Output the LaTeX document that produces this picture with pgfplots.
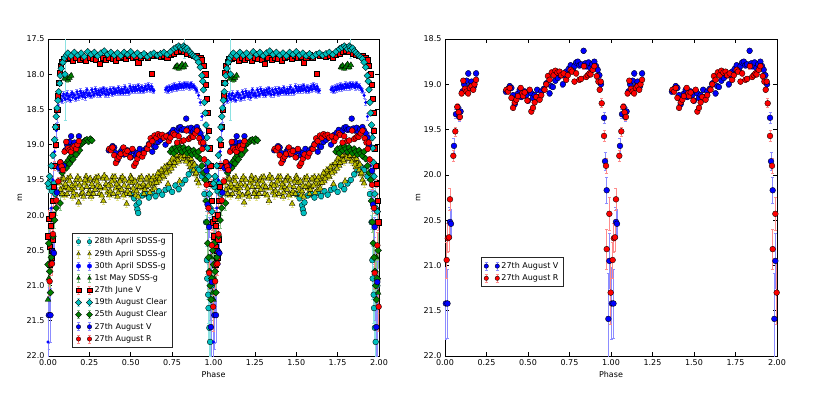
\documentclass[border=0pt]{standalone}
\usepackage{fontspec}
\setmainfont{DejaVu Sans}
\usepackage{pgfplots}
\usepackage{pgfplotstable}
\pgfplotsset{compat=1.18}

\definecolor{mc}{rgb}{0,0.75,0.75}
\definecolor{my}{rgb}{0.75,0.75,0}
\definecolor{mg}{rgb}{0,0.5,0}

% 28th April SDSS-g
\pgfplotstableread{
x y e
0.005 19.60 0.08
0.015 19.50 0.06
0.025 19.66 0.06
0.035 19.55 0.05
0.045 19.70 0.05
0.50 19.70 0.04
0.52 19.76 0.04
0.535 19.86 0.04
0.54 19.92 0.04
0.545 19.97 0.04
0.55 19.82 0.04
0.57 19.72 0.04
0.59 19.70 0.04
0.61 19.75 0.04
0.63 19.68 0.04
0.65 19.73 0.04
0.67 19.66 0.04
0.69 19.71 0.04
0.71 19.64 0.04
0.73 19.62 0.04
0.75 19.67 0.04
0.77 19.58 0.04
0.79 19.63 0.04
0.81 19.55 0.04
0.83 19.50 0.04
0.85 19.42 0.04
0.87 19.36 0.04
0.89 19.31 0.04
0.91 19.36 0.05
0.93 19.45 0.05
0.945 19.70 0.06
0.955 20.10 0.10
0.960 20.64 0.20
0.962 20.90 0.30
0.968 21.13 0.40
0.970 21.32 0.50
0.975 21.60 0.60
0.980 21.80 0.70
0.990 21.00 0.50
}\aprA

% 29th April SDSS-g
\pgfplotstableread{
x y e
0.07 19.55 0.05
0.08 19.50 0.05
0.09 19.62 0.05
0.10 19.72 0.05
0.11 19.60 0.05
0.12 19.48 0.05
0.13 19.52 0.05
0.14 19.64 0.05
0.15 19.74 0.05
0.16 19.62 0.05
0.17 19.50 0.05
0.18 19.46 0.05
0.185 19.82 0.05
0.19 19.58 0.05
0.20 19.70 0.05
0.21 19.68 0.05
0.22 19.55 0.05
0.23 19.45 0.05
0.24 19.52 0.05
0.25 19.66 0.05
0.26 19.74 0.05
0.27 19.60 0.05
0.28 19.50 0.05
0.29 19.47 0.05
0.30 19.58 0.05
0.31 19.70 0.05
0.32 19.62 0.05
0.33 19.48 0.05
0.335 19.80 0.05
0.34 19.44 0.05
0.35 19.56 0.05
0.36 19.68 0.05
0.37 19.72 0.05
0.38 19.58 0.05
0.39 19.46 0.05
0.40 19.50 0.05
0.41 19.62 0.05
0.42 19.74 0.05
0.43 19.60 0.05
0.44 19.48 0.05
0.45 19.46 0.05
0.46 19.58 0.05
0.47 19.70 0.05
0.475 19.84 0.05
0.48 19.66 0.05
0.49 19.52 0.05
0.50 19.45 0.05
0.51 19.54 0.05
0.52 19.66 0.05
0.53 19.72 0.05
0.54 19.58 0.05
0.55 19.48 0.05
0.56 19.50 0.05
0.57 19.62 0.05
0.58 19.70 0.05
0.59 19.60 0.05
0.60 19.50 0.05
0.61 19.46 0.05
0.62 19.56 0.05
0.63 19.64 0.05
0.64 19.55 0.05
0.65 19.48 0.05
0.66 19.44 0.05
0.67 19.52 0.05
0.68 19.42 0.05
0.69 19.38 0.05
0.70 19.46 0.05
0.71 19.36 0.05
0.72 19.30 0.05
0.725 19.56 0.05
0.73 19.38 0.05
0.74 19.28 0.05
0.75 19.22 0.05
0.76 19.30 0.05
0.77 19.20 0.05
0.78 19.16 0.05
0.79 19.24 0.05
0.795 19.52 0.05
0.80 19.14 0.05
0.81 19.12 0.05
0.82 19.20 0.05
0.83 19.15 0.05
0.84 19.12 0.05
0.85 19.22 0.05
0.86 19.32 0.05
0.87 19.26 0.05
0.88 19.36 0.05
0.89 19.42 0.05
0.90 19.50 0.05
0.91 19.55 0.05
0.075 19.64 0.05
0.085 19.70 0.05
0.095 19.48 0.05
0.105 19.56 0.05
0.115 19.70 0.05
0.125 19.62 0.05
0.135 19.46 0.05
0.145 19.58 0.05
0.155 19.68 0.05
0.165 19.56 0.05
0.175 19.72 0.05
0.195 19.50 0.05
0.205 19.62 0.05
0.215 19.74 0.05
0.225 19.50 0.05
0.235 19.60 0.05
0.245 19.70 0.05
0.255 19.48 0.05
0.265 19.56 0.05
0.275 19.70 0.05
0.285 19.64 0.05
0.295 19.52 0.05
0.305 19.46 0.05
0.315 19.60 0.05
0.325 19.72 0.05
0.345 19.62 0.05
0.355 19.48 0.05
0.365 19.58 0.05
0.375 19.66 0.05
0.385 19.52 0.05
0.395 19.70 0.05
0.405 19.46 0.05
0.415 19.56 0.05
0.425 19.68 0.05
0.435 19.52 0.05
0.445 19.64 0.05
0.455 19.72 0.05
0.465 19.50 0.05
0.485 19.60 0.05
0.495 19.70 0.05
0.505 19.48 0.05
0.515 19.62 0.05
0.525 19.52 0.05
0.535 19.66 0.05
0.545 19.74 0.05
0.555 19.60 0.05
0.565 19.46 0.05
0.575 19.56 0.05
0.585 19.64 0.05
0.595 19.48 0.05
0.605 19.58 0.05
0.615 19.68 0.05
0.625 19.50 0.05
0.635 19.46 0.05
0.645 19.62 0.05
0.655 19.54 0.05
0.665 19.40 0.05
0.675 19.48 0.05
0.685 19.36 0.05
0.695 19.44 0.05
0.705 19.32 0.05
0.715 19.40 0.05
0.735 19.26 0.05
0.745 19.34 0.05
0.755 19.18 0.05
0.765 19.26 0.05
0.775 19.14 0.05
0.785 19.22 0.05
0.805 19.18 0.05
0.815 19.10 0.05
0.825 19.16 0.05
0.835 19.24 0.05
0.845 19.16 0.05
0.855 19.28 0.05
0.865 19.20 0.05
0.875 19.30 0.05
0.885 19.28 0.05
0.895 19.40 0.05
}\aprB

% 30th April SDSS-g
\pgfplotstableread{
x y e
0.000 21.80 0.80
0.005 21.20 0.70
0.010 20.80 0.60
0.015 20.30 0.40
0.020 19.90 0.30
0.030 19.50 0.20
0.040 19.10 0.15
0.050 18.80 0.10
0.055 18.60 0.08
0.060 18.45 0.06
0.065 18.38 0.05
0.07 18.33 0.035
0.08 18.36 0.035
0.09 18.31 0.035
0.10 18.34 0.035
0.11 18.30 0.035
0.12 18.35 0.035
0.13 18.32 0.035
0.14 18.29 0.035
0.15 18.33 0.035
0.16 18.30 0.035
0.17 18.34 0.035
0.18 18.28 0.035
0.19 18.31 0.035
0.20 18.27 0.035
0.21 18.32 0.035
0.22 18.29 0.035
0.23 18.26 0.035
0.24 18.30 0.035
0.25 18.27 0.035
0.26 18.31 0.035
0.27 18.25 0.035
0.28 18.28 0.035
0.29 18.24 0.035
0.30 18.29 0.035
0.31 18.26 0.035
0.32 18.22 0.035
0.33 18.27 0.035
0.34 18.24 0.035
0.35 18.29 0.035
0.36 18.25 0.035
0.37 18.27 0.035
0.38 18.23 0.035
0.39 18.28 0.035
0.40 18.25 0.035
0.41 18.22 0.035
0.42 18.26 0.035
0.43 18.23 0.035
0.44 18.27 0.035
0.45 18.24 0.035
0.46 18.21 0.035
0.47 18.26 0.035
0.48 18.22 0.035
0.49 18.25 0.035
0.50 18.20 0.035
0.51 18.24 0.035
0.52 18.21 0.035
0.53 18.18 0.035
0.54 18.23 0.035
0.55 18.20 0.035
0.56 18.24 0.035
0.57 18.19 0.035
0.58 18.22 0.035
0.59 18.17 0.035
0.60 18.21 0.035
0.61 18.18 0.035
0.62 18.22 0.035
0.63 18.20 0.035
0.64 18.23 0.035
0.71 18.22 0.035
0.72 18.19 0.035
0.73 18.23 0.035
0.74 18.20 0.035
0.75 18.17 0.035
0.76 18.21 0.035
0.77 18.18 0.035
0.78 18.16 0.035
0.79 18.20 0.035
0.80 18.17 0.035
0.81 18.15 0.035
0.82 18.19 0.035
0.83 18.16 0.035
0.84 18.14 0.035
0.85 18.17 0.035
0.86 18.15 0.035
0.87 18.18 0.035
0.88 18.16 0.035
0.89 18.20 0.035
0.90 18.24 0.035
0.91 18.30 0.04
0.92 18.40 0.04
0.93 18.60 0.05
0.94 18.90 0.08
0.95 19.30 0.10
0.96 19.80 0.15
0.97 20.40 0.30
0.98 21.00 0.50
0.99 21.60 0.70
0.075 18.30 0.035
0.085 18.38 0.035
0.095 18.28 0.035
0.105 18.36 0.035
0.115 18.27 0.035
0.125 18.31 0.035
0.135 18.37 0.035
0.145 18.26 0.035
0.155 18.29 0.035
0.165 18.35 0.035
0.175 18.25 0.035
0.185 18.33 0.035
0.195 18.24 0.035
0.205 18.30 0.035
0.215 18.26 0.035
0.225 18.33 0.035
0.235 18.22 0.035
0.245 18.28 0.035
0.255 18.31 0.035
0.265 18.22 0.035
0.275 18.30 0.035
0.285 18.21 0.035
0.295 18.27 0.035
0.305 18.23 0.035
0.315 18.30 0.035
0.325 18.25 0.035
0.335 18.20 0.035
0.345 18.28 0.035
0.355 18.22 0.035
0.365 18.29 0.035
0.375 18.21 0.035
0.385 18.26 0.035
0.395 18.20 0.035
0.405 18.27 0.035
0.415 18.24 0.035
0.425 18.19 0.035
0.435 18.25 0.035
0.445 18.21 0.035
0.455 18.27 0.035
0.465 18.18 0.035
0.475 18.23 0.035
0.485 18.26 0.035
0.495 18.17 0.035
0.505 18.23 0.035
0.515 18.18 0.035
0.525 18.24 0.035
0.535 18.21 0.035
0.545 18.16 0.035
0.555 18.22 0.035
0.565 18.18 0.035
0.575 18.24 0.035
0.585 18.19 0.035
0.595 18.22 0.035
0.605 18.15 0.035
0.615 18.21 0.035
0.625 18.17 0.035
0.635 18.24 0.035
0.715 18.20 0.035
0.725 18.24 0.035
0.735 18.18 0.035
0.745 18.22 0.035
0.755 18.19 0.035
0.765 18.15 0.035
0.775 18.21 0.035
0.785 18.18 0.035
0.795 18.14 0.035
0.805 18.19 0.035
0.815 18.17 0.035
0.825 18.13 0.035
0.835 18.18 0.035
0.845 18.15 0.035
0.855 18.19 0.035
0.865 18.13 0.035
0.875 18.17 0.035
0.885 18.19 0.035
0.895 18.22 0.035
}\aprC

% 1st May SDSS-g
\pgfplotstableread{
x y e
0.000 21.20 0.30
0.005 20.90 0.25
0.010 20.70 0.20
0.10 18.06 0.03
0.11 18.03 0.03
0.12 18.08 0.03
0.13 18.05 0.03
0.14 18.02 0.03
0.77 17.90 0.03
0.78 17.88 0.03
0.79 17.92 0.03
0.80 17.89 0.03
0.81 17.86 0.03
0.82 17.90 0.03
0.83 17.87 0.03
0.985 20.60 0.20
0.990 20.90 0.25
0.995 21.10 0.30
}\mayA

% 27th June V
\pgfplotstableread{
x y e
0.000 20.30 0.15
0.005 20.05 0.12
0.010 20.70 0.20
0.012 20.45 0.15
0.015 20.15 0.12
0.020 20.50 0.15
0.022 20.60 0.20
0.025 20.00 0.12
0.028 20.35 0.15
0.030 19.80 0.10
0.035 19.60 0.08
0.040 19.30 0.06
0.045 19.00 0.05
0.050 18.75 0.04
0.055 18.50 0.04
0.060 18.30 0.03
0.065 18.12 0.03
0.070 17.98 0.03
0.075 17.88 0.02
0.085 17.82 0.02
0.095 17.78 0.02
0.11 17.78 0.02
0.13 17.77 0.02
0.15 17.80 0.02
0.17 17.76 0.02
0.19 17.79 0.02
0.21 17.77 0.02
0.23 17.80 0.02
0.25 17.76 0.02
0.27 17.78 0.02
0.29 17.79 0.02
0.31 17.85 0.02
0.33 17.77 0.02
0.35 17.79 0.02
0.37 17.76 0.02
0.39 17.78 0.02
0.41 17.80 0.02
0.43 17.77 0.02
0.45 17.75 0.02
0.47 17.78 0.02
0.49 17.74 0.02
0.51 17.77 0.02
0.53 17.75 0.02
0.545 17.83 0.02
0.56 17.76 0.02
0.58 17.73 0.02
0.60 17.76 0.02
0.625 17.99 0.02
0.64 17.74 0.02
0.66 17.72 0.02
0.68 17.75 0.02
0.70 17.73 0.02
0.72 17.76 0.02
0.74 17.72 0.02
0.76 17.70 0.02
0.78 17.68 0.02
0.80 17.66 0.02
0.82 17.68 0.02
0.84 17.70 0.02
0.86 17.72 0.02
0.88 17.74 0.02
0.90 17.74 0.02
0.92 17.76 0.02
0.93 17.80 0.02
0.94 17.88 0.02
0.95 18.00 0.02
0.955 18.15 0.03
0.960 18.35 0.03
0.965 18.55 0.03
0.970 18.80 0.04
0.975 19.05 0.04
0.980 19.30 0.05
0.985 19.55 0.06
0.990 19.80 0.10
0.995 20.10 0.12
}\junA

% 19th August Clear
\pgfplotstableread{
x y e
0.000 19.55 0.05
0.010 19.45 0.05
0.020 19.30 0.04
0.030 19.15 0.04
0.040 18.93 0.03
0.045 18.75 0.03
0.050 18.60 0.03
0.055 18.48 0.03
0.060 18.37 0.03
0.065 18.25 0.03
0.070 18.13 0.03
0.075 18.02 0.02
0.080 17.92 0.02
0.090 17.83 0.02
0.100 17.77 0.02
0.103 18.00 0.65
0.11 17.73 0.02
0.12 17.70 0.02
0.14 17.74 0.02
0.16 17.69 0.02
0.18 17.73 0.02
0.20 17.70 0.02
0.22 17.75 0.02
0.24 17.68 0.02
0.26 17.72 0.02
0.28 17.69 0.02
0.30 17.74 0.02
0.32 17.70 0.02
0.34 17.67 0.02
0.36 17.72 0.02
0.38 17.69 0.02
0.40 17.73 0.02
0.42 17.70 0.02
0.44 17.74 0.02
0.46 17.69 0.02
0.48 17.72 0.02
0.50 17.68 0.02
0.52 17.73 0.02
0.54 17.70 0.02
0.56 17.74 0.02
0.58 17.71 0.02
0.60 17.75 0.02
0.62 17.72 0.02
0.64 17.70 0.02
0.66 17.73 0.02
0.68 17.71 0.02
0.70 17.69 0.02
0.72 17.72 0.02
0.74 17.68 0.02
0.76 17.64 0.02
0.775 17.62 0.02
0.79 17.60 0.02
0.80 17.62 0.02
0.81 17.64 0.02
0.82 17.60 0.02
0.826 17.62 0.15
0.83 17.65 0.02
0.84 17.63 0.02
0.85 17.67 0.02
0.86 17.69 0.02
0.87 17.72 0.02
0.88 17.74 0.02
0.89 17.76 0.02
0.90 17.78 0.02
0.91 17.83 0.02
0.92 17.90 0.02
0.93 18.02 0.02
0.935 18.10 0.02
0.940 18.22 0.03
0.945 18.40 0.03
0.950 18.55 0.03
0.955 18.72 0.03
0.960 18.90 0.04
0.963 19.05 0.04
0.966 19.25 0.04
0.970 19.45 0.05
0.975 19.70 0.08
0.980 19.90 0.10
0.990 19.95 0.12
}\augA

% 25th August Clear
\pgfplotstableread{
x y e
0.000 20.70 0.25
0.005 20.40 0.20
0.010 20.80 0.25
0.015 21.10 0.30
0.020 20.60 0.20
0.030 20.30 0.15
0.040 20.07 0.12
0.050 19.90 0.10
0.073 19.83 0.10
0.085 19.40 0.06
0.095 19.30 0.05
0.105 19.29 0.04
0.110 19.33 0.04
0.115 19.25 0.04
0.125 19.22 0.04
0.130 19.27 0.04
0.135 19.18 0.04
0.145 19.15 0.04
0.150 19.21 0.04
0.155 19.11 0.04
0.165 19.08 0.04
0.170 19.14 0.04
0.175 19.06 0.04
0.185 19.02 0.04
0.190 19.08 0.04
0.195 19.00 0.04
0.205 18.98 0.04
0.215 18.96 0.04
0.225 18.94 0.04
0.235 18.93 0.04
0.245 18.95 0.04
0.255 18.92 0.04
0.265 18.94 0.04
0.74 19.10 0.03
0.75 19.06 0.03
0.76 19.12 0.03
0.77 19.04 0.03
0.78 19.08 0.03
0.79 19.02 0.03
0.80 19.06 0.03
0.81 19.10 0.03
0.82 19.04 0.03
0.83 19.08 0.03
0.84 19.12 0.03
0.85 19.06 0.03
0.86 19.10 0.03
0.87 19.14 0.03
0.88 19.08 0.03
0.89 19.12 0.03
0.90 19.16 0.03
0.91 19.10 0.03
0.92 19.20 0.03
0.93 19.30 0.04
0.94 19.40 0.05
0.950 19.50 0.08
0.955 19.80 0.10
0.960 20.10 0.15
0.965 20.40 0.20
0.970 20.60 0.20
0.975 20.80 0.25
0.980 21.00 0.30
0.985 21.20 0.35
0.990 20.90 0.30
0.995 20.50 0.25
}\augB

% 27th August V
\pgfplotstableread{
x y e
0.005 21.42 0.40
0.015 21.42 0.38
0.030 20.52 0.16
0.036 20.54 0.16
0.054 19.68 0.08
0.066 19.33 0.05
0.076 19.25 0.04
0.086 19.36 0.05
0.094 19.30 0.04
0.105 19.08 0.03
0.115 19.00 0.03
0.130 18.96 0.03
0.140 18.88 0.03
0.150 19.02 0.03
0.160 18.97 0.03
0.175 19.02 0.03
0.187 18.88 0.03
0.367 19.08 0.03
0.380 19.05 0.03
0.390 19.02 0.03
0.400 19.04 0.03
0.410 19.12 0.03
0.420 19.22 0.03
0.430 19.16 0.03
0.440 19.10 0.03
0.450 19.06 0.03
0.460 19.14 0.03
0.470 19.10 0.03
0.480 19.08 0.03
0.490 19.12 0.03
0.500 19.18 0.03
0.510 19.07 0.03
0.520 19.10 0.03
0.530 19.15 0.03
0.540 19.12 0.03
0.555 19.06 0.03
0.570 19.14 0.03
0.580 19.08 0.03
0.595 19.05 0.03
0.610 18.99 0.03
0.630 19.10 0.03
0.640 19.02 0.03
0.650 19.03 0.03
0.665 18.96 0.03
0.680 18.93 0.03
0.695 18.90 0.03
0.710 19.00 0.03
0.720 18.90 0.03
0.730 18.86 0.03
0.745 18.83 0.03
0.757 18.79 0.03
0.770 18.84 0.03
0.780 18.80 0.03
0.790 18.76 0.03
0.800 18.75 0.03
0.810 18.79 0.03
0.820 18.78 0.03
0.835 18.63 0.03
0.845 18.77 0.03
0.855 18.80 0.03
0.865 18.76 0.03
0.876 18.82 0.03
0.886 18.78 0.03
0.900 18.75 0.03
0.910 18.80 0.03
0.920 18.84 0.03
0.930 18.90 0.03
0.940 19.00 0.04
0.958 19.37 0.06
0.964 19.85 0.10
0.974 20.17 0.14
0.984 21.59 0.50
0.990 20.95 0.30
}\augV

% 27th August R
\pgfplotstableread{
x y e
0.010 20.94 0.20
0.017 20.70 0.16
0.024 20.69 0.16
0.030 20.27 0.12
0.050 19.79 0.06
0.062 19.52 0.05
0.074 19.25 0.04
0.082 19.31 0.04
0.090 19.36 0.04
0.100 19.10 0.03
0.110 18.96 0.03
0.120 19.05 0.03
0.130 19.08 0.03
0.139 19.10 0.03
0.150 19.04 0.03
0.160 19.02 0.03
0.170 19.06 0.03
0.178 19.00 0.03
0.187 18.95 0.03
0.370 19.06 0.03
0.380 19.08 0.03
0.390 19.04 0.03
0.400 19.15 0.03
0.410 19.26 0.03
0.420 19.20 0.03
0.430 19.17 0.03
0.440 19.13 0.03
0.456 19.04 0.03
0.465 19.10 0.03
0.470 19.13 0.03
0.480 19.09 0.03
0.496 19.18 0.03
0.510 19.06 0.03
0.520 19.30 0.03
0.530 19.26 0.03
0.540 19.20 0.03
0.550 19.14 0.03
0.570 19.17 0.03
0.580 19.12 0.03
0.600 19.06 0.03
0.610 19.00 0.03
0.620 18.91 0.03
0.630 18.95 0.03
0.643 18.87 0.03
0.655 18.90 0.03
0.665 18.85 0.03
0.677 18.87 0.03
0.690 18.86 0.03
0.700 18.90 0.03
0.715 18.88 0.03
0.730 18.95 0.03
0.740 18.90 0.03
0.757 18.84 0.03
0.765 18.86 0.03
0.780 18.97 0.03
0.790 18.88 0.03
0.810 18.95 0.03
0.820 18.94 0.03
0.837 18.80 0.03
0.850 18.92 0.03
0.860 18.90 0.03
0.870 18.88 0.03
0.877 18.89 0.03
0.890 18.84 0.03
0.900 18.80 0.03
0.914 18.91 0.03
0.924 18.97 0.03
0.932 19.06 0.03
0.938 18.97 0.03
0.944 19.21 0.05
0.958 19.57 0.06
0.970 19.90 0.08
0.974 20.82 0.22
0.990 20.43 0.18
0.998 21.30 0.35
}\augR

\pgfplotsset{
  ser/.style 2 args={only marks, color=#1,
    mark options={fill=#1, draw=black, line width=0.35pt, #2},
    legend image code/.code={%
      \draw[#1!45!white, line width=0.7pt]
        (0pt,-4pt)--(0pt,4pt) (-1.6pt,-4pt)--(1.6pt,-4pt) (-1.6pt,4pt)--(1.6pt,4pt)
        (11pt,-4pt)--(11pt,4pt) (9.4pt,-4pt)--(12.6pt,-4pt) (9.4pt,4pt)--(12.6pt,4pt);
      \draw[##1, mark size=2.2pt] plot coordinates {(0pt,0pt) (11pt,0pt)};
    },
    error bars/y dir=both, error bars/y explicit,
    error bars/error bar style={color=#1!45!white, line width=0.7pt},
    error bars/error mark=none,
    error bars/draw error bar/.code 2 args={\draw ##1 -- ##2 ++(-1.5pt,0pt) -- ++(3pt,0pt);}},
  sA/.style={mark=*, mark size=2.9pt, ser={mc}{}},
  sB/.style={mark=triangle*, mark size=3.3pt, ser={my}{}},
  sC/.style={mark=*, mark size=1.4pt, ser={blue}{draw=blue}},
  sD/.style={mark=triangle*, mark size=3.3pt, ser={mg}{}},
  sE/.style={mark=square*, mark size=2.6pt, ser={red}{}},
  sF/.style={mark=square*, mark size=2.4pt, ser={mc}{rotate=45}},
  sG/.style={mark=square*, mark size=2.4pt, ser={mg}{rotate=45}},
  sV/.style={mark=*, mark size=2.9pt, ser={blue}{}},
  sR/.style={mark=*, mark size=2.9pt, ser={red}{}},
  panel/.style={scale only axis, height=317pt, y dir=reverse,
    xmin=0, xmax=2, xtick={0,0.25,0.5,0.75,1,1.25,1.5,1.75,2},
    axis line style={line width=0.8pt}, tick style={line width=0.6pt, black},
    major tick length=4pt,
    tick label style={font=\fontsize{8}{9.6}\selectfont},
    label style={font=\fontsize{8}{9.6}\selectfont},
    /pgf/number format/assume math mode=true,
    xticklabel style={/pgf/number format/.cd, fixed, fixed zerofill, precision=2},
    yticklabel style={/pgf/number format/.cd, fixed, fixed zerofill, precision=1},
    xlabel={Phase}, ylabel={m},
    xlabel style={at={(axis description cs:0.5,-0.057)}, anchor=center},
    legend cell align=left,
    legend style={anchor=north west, draw=black!85, line width=0.8pt, fill=white,
      font=\fontsize{8}{9.6}\selectfont, inner xsep=3pt, inner ysep=2.5pt,
      row sep=0.6pt, /tikz/every even column/.append style={column sep=2pt}},
  },
}

\begin{document}
\begin{tikzpicture}
\path (0,0) rectangle (830pt,397pt);
\begin{axis}[panel, at={(48pt,41pt)}, anchor=south west, width=331pt,
  ymin=17.5, ymax=22, ytick={17.5,18,18.5,19,19.5,20,20.5,21,21.5,22},
  ylabel style={at={(axis description cs:-0.085,0.5)}, anchor=center},
  legend style={at={(axis description cs:0.0725,0.388)}}]
\addplot[sA] table[x=x, y=y, y error=e]{\aprA};
\addlegendentry{28th April SDSS-g}
\addplot[forget plot, sA] table[x expr=\thisrow{x}+1, y=y, y error=e]{\aprA};
\addplot[sB] table[x=x, y=y, y error=e]{\aprB};
\addlegendentry{29th April SDSS-g}
\addplot[forget plot, sB] table[x expr=\thisrow{x}+1, y=y, y error=e]{\aprB};
\addplot[sC] table[x=x, y=y, y error=e]{\aprC};
\addlegendentry{30th April SDSS-g}
\addplot[forget plot, sC] table[x expr=\thisrow{x}+1, y=y, y error=e]{\aprC};
\addplot[sD] table[x=x, y=y, y error=e]{\mayA};
\addlegendentry{1st May SDSS-g}
\addplot[forget plot, sD] table[x expr=\thisrow{x}+1, y=y, y error=e]{\mayA};
\addplot[sE] table[x=x, y=y, y error=e]{\junA};
\addlegendentry{27th June V}
\addplot[forget plot, sE] table[x expr=\thisrow{x}+1, y=y, y error=e]{\junA};
\addplot[sF] table[x=x, y=y, y error=e]{\augA};
\addlegendentry{19th August Clear}
\addplot[forget plot, sF] table[x expr=\thisrow{x}+1, y=y, y error=e]{\augA};
\addplot[sG] table[x=x, y=y, y error=e]{\augB};
\addlegendentry{25th August Clear}
\addplot[forget plot, sG] table[x expr=\thisrow{x}+1, y=y, y error=e]{\augB};
\addplot[sV] table[x=x, y=y, y error=e]{\augV};
\addlegendentry{27th August V}
\addplot[forget plot, sV] table[x expr=\thisrow{x}+1, y=y, y error=e]{\augV};
\addplot[sR] table[x=x, y=y, y error=e]{\augR};
\addlegendentry{27th August R}
\addplot[forget plot, sR] table[x expr=\thisrow{x}+1, y=y, y error=e]{\augR};
\end{axis}

\begin{axis}[panel, at={(445pt,41pt)}, anchor=south west, width=332pt,
  ymin=18.5, ymax=22, ytick={18.5,19,19.5,20,20.5,21,21.5,22},
  ylabel style={at={(axis description cs:-0.081,0.5)}, anchor=center},
  legend style={at={(axis description cs:0.1075,0.311)}}]
\addplot[sV] table[x=x, y=y, y error=e]{\augV};
\addlegendentry{27th August V}
\addplot[forget plot, sV] table[x expr=\thisrow{x}+1, y=y, y error=e]{\augV};
\addplot[sR] table[x=x, y=y, y error=e]{\augR};
\addlegendentry{27th August R}
\addplot[forget plot, sR] table[x expr=\thisrow{x}+1, y=y, y error=e]{\augR};
\end{axis}
\end{tikzpicture}
\end{document}
